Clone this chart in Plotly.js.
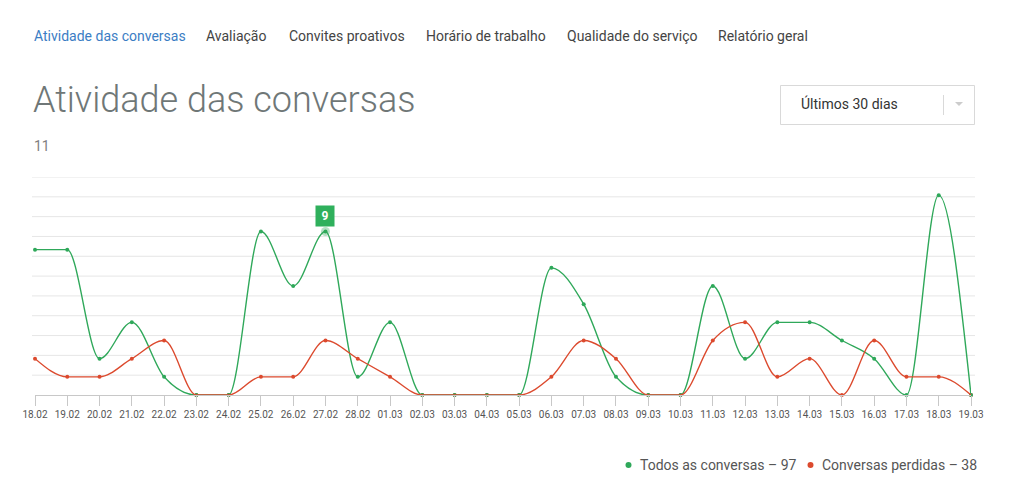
<!DOCTYPE html>
<html>
<head>
<meta charset="utf-8">
<script src="https://cdn.plot.ly/plotly-3.0.1.min.js"></script>
<style>
html,body{margin:0;padding:0;background:#fff;}
#chart{width:1023px;height:492px;}
</style>
</head>
<body>
<div id="chart"></div>
<script>
const categories = ["18.02","19.02","20.02","21.02","22.02","23.02","24.02","25.02","26.02","27.02","28.02","01.03","02.03","03.03","04.03","05.03","06.03","07.03","08.03","09.03","10.03","11.03","12.03","13.03","14.03","15.03","16.03","17.03","18.03","19.03"];
const allConversations = [8,8,2,4,1,0,0,9,6,9,1,4,0,0,0,0,7,5,1,0,0,6,2,4,4,3,2,0,11,0];
const lostConversations = [2,1,1,2,3,0,0,1,1,3,2,1,0,0,0,0,1,3,2,0,0,3,4,1,2,0,3,1,1,0];
const navItems = ["Atividade das conversas","Avaliação","Convites proativos","Horário de trabalho","Qualidade do serviço","Relatório geral"];
const navX = [34,206,289,426,567,718];
const pageTitle = "Atividade das conversas";
const periodLabel = "Últimos 30 dias";
const legendAll = "Todos as conversas – 97";
const legendLost = "Conversas perdidas – 38";
const yTopLabel = "11";
const highlightIndex = 9;

const W = 1023, H = 492;
const L = 35, R = 52, T = 177, B = 97;
const PW = W - L - R, PH = H - T - B;
const px = x => (x - L) / PW;
const py = y => (H - B - y) / PH;

const green = "#2fa85a", red = "#dc4a2e";
const xIdx = categories.map((c, i) => i);

// monotone-X cubic path (same rule as d3.curveMonotoneX) in data coordinates
function sign(v) { return v < 0 ? -1 : 1; }
function monotonePath(xs, ys) {
  const n = xs.length, t = new Array(n);
  for (let i = 1; i < n - 1; i++) {
    const h0 = xs[i] - xs[i-1], h1 = xs[i+1] - xs[i];
    const s0 = (ys[i] - ys[i-1]) / h0, s1 = (ys[i+1] - ys[i]) / h1;
    const p = (s0 * h1 + s1 * h0) / (h0 + h1);
    t[i] = (sign(s0) + sign(s1)) * Math.min(Math.abs(s0), Math.abs(s1), 0.5 * Math.abs(p)) || 0;
  }
  const hA = xs[1] - xs[0];
  t[0] = (3 * (ys[1] - ys[0]) / hA - t[1]) / 2;
  const hB = xs[n-1] - xs[n-2];
  t[n-1] = (3 * (ys[n-1] - ys[n-2]) / hB - t[n-2]) / 2;
  let d = `M ${xs[0]},${ys[0]}`;
  for (let i = 0; i < n - 1; i++) {
    const dx = (xs[i+1] - xs[i]) / 3;
    d += ` C ${xs[i] + dx},${ys[i] + dx * t[i]} ${xs[i+1] - dx},${ys[i+1] - dx * t[i+1]} ${xs[i+1]},${ys[i+1]}`;
  }
  return d;
}

const traces = [
  {x: xIdx, y: lostConversations, type: "scatter", mode: "markers",
   marker: {color: red, size: 4}, hoverinfo: "skip", showlegend: false, cliponaxis: false},
  {x: xIdx, y: allConversations, type: "scatter", mode: "markers",
   marker: {color: green, size: 4}, hoverinfo: "skip", showlegend: false, cliponaxis: false},
  {x: [highlightIndex], y: [allConversations[highlightIndex]], type: "scatter", mode: "markers",
   marker: {color: "rgba(47,168,90,0.35)", size: 9}, hoverinfo: "skip", showlegend: false}
];

const ann = [];
navItems.forEach((t, i) => ann.push({
  text: t, xref: "paper", yref: "paper", x: px(navX[i] - 2), y: py(36),
  xanchor: "left", yanchor: "middle", showarrow: false,
  font: {family: "Roboto", size: 14, color: i === 0 ? "#3b7dc4" : "#444"}
}));
ann.push({text: pageTitle, xref: "paper", yref: "paper", x: px(31), y: py(100),
  xanchor: "left", yanchor: "middle", showarrow: false,
  font: {family: "Roboto", size: 36, weight: 300, color: "#6f7777"}});
ann.push({text: periodLabel, xref: "paper", yref: "paper", x: px(799), y: py(104),
  xanchor: "left", yanchor: "middle", showarrow: false,
  font: {family: "Roboto", size: 14, color: "#333"}});
ann.push({text: yTopLabel, xref: "paper", yref: "paper", x: px(32), y: py(146),
  xanchor: "left", yanchor: "middle", showarrow: false,
  font: {family: "Roboto", size: 14, color: "#808080"}});
ann.push({text: "<b>" + allConversations[highlightIndex] + "</b>", x: highlightIndex, y: allConversations[highlightIndex],
  xref: "x", yref: "y", yshift: 16, showarrow: false, bgcolor: "#2fb05c",
  borderpad: 3, font: {family: "Roboto", size: 12, color: "#fff"}, width: 12, height: 14});
ann.push({text: legendAll, xref: "paper", yref: "paper", x: px(638), y: py(465),
  xanchor: "left", yanchor: "middle", showarrow: false,
  font: {family: "Roboto", size: 14, color: "#555"}});
ann.push({text: legendLost, xref: "paper", yref: "paper", x: px(820), y: py(465),
  xanchor: "left", yanchor: "middle", showarrow: false,
  font: {family: "Roboto", size: 14, color: "#555"}});

const shapes = [
  {type: "rect", xref: "paper", yref: "paper", x0: px(780.5), x1: px(974.5), y0: py(85.5), y1: py(124.5),
   line: {color: "#d9d9d9", width: 1}, fillcolor: "rgba(0,0,0,0)"},
  {type: "line", xref: "paper", yref: "paper", x0: px(943.5), x1: px(943.5), y0: py(95), y1: py(115),
   line: {color: "#d9d9d9", width: 1}},
  {type: "path", xref: "paper", yref: "paper",
   path: `M ${px(955)} ${py(102)} L ${px(963)} ${py(102)} L ${px(959)} ${py(106)} Z`,
   fillcolor: "#cccccc", line: {width: 0}},
  {type: "circle", xref: "paper", yref: "paper", x0: px(625.5), x1: px(631.5), y0: py(462), y1: py(468),
   fillcolor: green, line: {width: 0}},
  {type: "circle", xref: "paper", yref: "paper", x0: px(807.5), x1: px(813.5), y0: py(462), y1: py(468),
   fillcolor: red, line: {width: 0}}
];
for (let k = 1; k <= 11; k++) {
  shapes.push({type: "line", xref: "paper", yref: "y", x0: px(32), x1: px(975), y0: k * 12 / 11, y1: k * 12 / 11,
    line: {color: "#e6e6e6", width: 1}, layer: "below"});
}
shapes.push({type: "path", xref: "x", yref: "y", path: monotonePath(xIdx, allConversations),
  line: {color: green, width: 1.4}, fillcolor: "rgba(0,0,0,0)", layer: "above"});
shapes.push({type: "path", xref: "x", yref: "y", path: monotonePath(xIdx, lostConversations),
  line: {color: red, width: 1.4}, fillcolor: "rgba(0,0,0,0)", layer: "above"});

const layout = {
  width: W, height: H,
  margin: {l: L, r: R, t: T, b: B},
  paper_bgcolor: "#fff", plot_bgcolor: "rgba(0,0,0,0)",
  showlegend: false,
  xaxis: {
    type: "linear", range: [0, 29], tickmode: "array", tickvals: xIdx, ticktext: categories,
    showgrid: false, zeroline: false, showline: true, linecolor: "#c8c8c8", linewidth: 1,
    ticks: "outside", ticklen: 10, tickcolor: "#c8c8c8", tickwidth: 1,
    tickfont: {family: "Roboto", size: 10, color: "#555"}, fixedrange: true
  },
  yaxis: {
    range: [0, 12], showgrid: false, zeroline: false, showticklabels: false, ticks: "", fixedrange: true
  },
  annotations: ann,
  shapes: shapes
};

Plotly.newPlot("chart", traces, layout, {displayModeBar: false, staticPlot: true});
</script>
</body>
</html>
